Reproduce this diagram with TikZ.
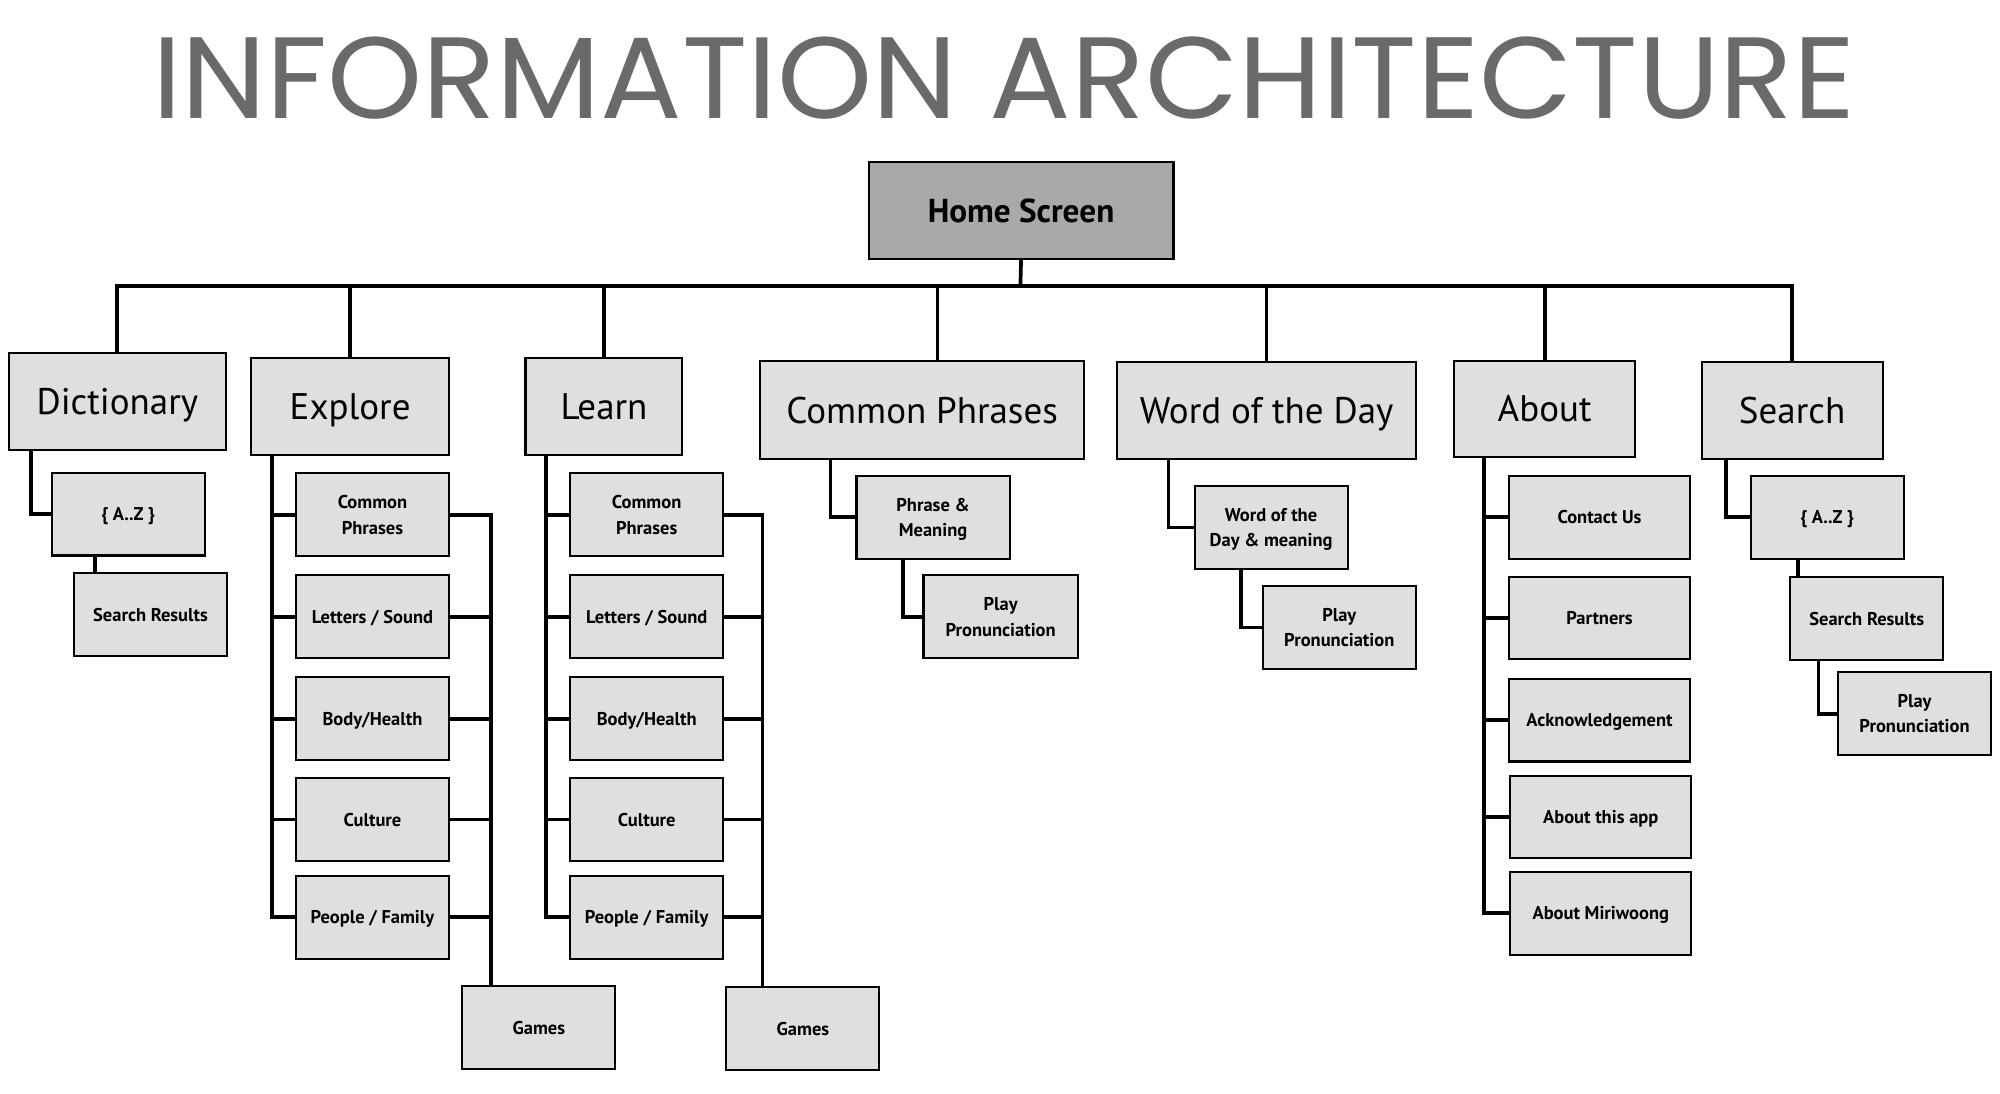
\documentclass[tikz,border=0pt]{standalone}
\usepackage{fontspec}
\setmainfont{PT Sans}
\newfontfamily\titlefont{Poppins}
\usepackage{xcolor}
\definecolor{boxgray}{HTML}{DEDFE1}
\definecolor{homegray}{HTML}{A8A9A9}
\definecolor{titlegray}{HTML}{6A6A6A}
\usetikzlibrary{positioning,calc}

\begin{document}
\begin{tikzpicture}[x=1pt, y=-1pt,
      mainbox/.style={draw, line width=1.6pt, fill=boxgray, inner sep=0pt, text depth=0pt, font=\fontsize{29}{32}\selectfont},
      subbox/.style={draw, line width=1.6pt, fill=boxgray, inner sep=0pt, align=center, text depth=0pt, minimum width=120pt, minimum height=65pt, font=\bfseries\fontsize{14.5}{20}\selectfont},
      homebox/.style={draw, line width=1.6pt, fill=homegray, inner sep=0pt, text depth=0pt, minimum width=239pt, minimum height=76pt, font=\bfseries\fontsize{26}{30}\selectfont},
      conn/.style={line width=2.9pt}
    ]
    \useasboundingbox[fill=white] (0,0) rectangle (1568,857);
    % title
    \node[inner sep=0pt, text=titlegray, font=\titlefont] (title) at (787,61) {\resizebox{1335pt}{64pt}{INFORMATION ARCHITECTURE}};
    % home and top level
    \node[homebox] (home) at (800.5,165) {Home Screen};
    \node[mainbox, minimum width=170pt, minimum height=76pt] (dict) at (92,315) {Dictionary};
    \node[mainbox, minimum width=155pt, minimum height=76pt] (explore) at (274.5,319) {Explore};
    \node[mainbox, minimum width=123pt, minimum height=76pt] (learn) at (473.5,319) {Learn};
    \node[mainbox, minimum width=254pt, minimum height=77pt] (cphr) at (723,321.5) {Common Phrases};
    \node[mainbox, minimum width=234pt, minimum height=76pt] (wotd) at (993,322) {Word of the Day};
    \node[mainbox, minimum width=142pt, minimum height=75pt] (about) at (1211,320.5) {About};
    \node[mainbox, minimum width=142pt, minimum height=76pt] (search) at (1405,322) {Search};
    \coordinate (bus) at (800,224);
    \draw[conn] (dict.north) |- (bus) -| (search.north);
    \draw[conn] (home.south) -- (bus);
    \foreach \n in {explore,learn,wotd,about} { \draw[conn] (\n.north) -- (\n.north |- bus); }
    \draw[conn] ([xshift=12pt]cphr.north) -- ([xshift=12pt]cphr.north |- bus);
    % dictionary
    \node[subbox] (daz) at (100.5,403) {\{ A..Z \}};
    \node[subbox] (dres) at (118,482) {Search Results};
    \draw[conn] ([xshift=18pt]dict.south west) |- (daz.west);
    \draw[conn] ([xshift=35pt]daz.south west) -- ([xshift=35pt]daz.south west |- dres.north);
    % explore
    \node[subbox] (ecp) at (292,403.5) {Common\\Phrases};
    \node[subbox] (els) at (292,483.5) {Letters / Sound};
    \node[subbox] (ebh) at (292,563.5) {Body/Health};
    \node[subbox] (ecu) at (292,642.5) {Culture};
    \node[subbox] (epf) at (292,719) {People / Family};
    \node[subbox] (egm) at (422.5,805.5) {Games};
    \foreach \c in {ecp,els,ebh,ecu,epf} {
      \draw[conn] ([xshift=17pt]explore.south west) |- (\c.west);
      \draw[conn] (\c.east) -| ([xshift=23pt]egm.north west);
    }
    % learn
    \node[subbox] (lcp) at (507,403.5) {Common\\Phrases};
    \node[subbox] (lls) at (507,483.5) {Letters / Sound};
    \node[subbox] (lbh) at (507,563.5) {Body/Health};
    \node[subbox] (lcu) at (507,642.5) {Culture};
    \node[subbox] (lpf) at (507,719) {People / Family};
    \node[subbox] (lgm) at (629.5,806.5) {Games};
    \foreach \c in {lcp,lls,lbh,lcu,lpf} {
      \draw[conn] ([xshift=17pt]learn.south west) |- (\c.west);
      \draw[conn] (\c.east) -| ([xshift=29pt]lgm.north west);
    }
    % common phrases
    \node[subbox] (cpm) at (731.5,405.5) {Phrase \&\\Meaning};
    \node[subbox, minimum width=121pt] (cpp) at (784.5,483.5) {Play\\Pronunciation};
    \draw[conn] ([xshift=56pt]cphr.south west) |- (cpm.west);
    \draw[conn] ([xshift=37pt]cpm.south west) |- (cpp.west);
    % word of the day
    \node[subbox] (wdm) at (996.5,413.5) {Word of the\\Day \& meaning};
    \node[subbox] (wpp) at (1050,492) {Play\\Pronunciation};
    \draw[conn] ([xshift=41pt]wotd.south west) |- (wdm.west);
    \draw[conn] ([xshift=37pt]wdm.south west) |- (wpp.west);
    % about
    \node[subbox, minimum width=142pt] (acu) at (1254,405.5) {Contact Us};
    \node[subbox, minimum width=142pt] (apa) at (1254,484.5) {Partners};
    \node[subbox, minimum width=142pt] (aak) at (1254,564.5) {Acknowledgement};
    \node[subbox, minimum width=142pt] (aap) at (1255,640.5) {About this app};
    \node[subbox, minimum width=142pt] (ami) at (1255,716) {About Miriwoong};
    \foreach \c in {acu,apa,aak,aap,ami} { \draw[conn] ([xshift=24pt]about.south west) |- (\c.west); }
    % search
    \node[subbox] (saz) at (1432.5,405.5) {\{ A..Z \}};
    \node[subbox] (sres) at (1463.5,485) {Search Results};
    \node[subbox] (spp) at (1501,559.5) {Play\\Pronunciation};
    \draw[conn] ([xshift=20pt]search.south west) |- (saz.west);
    \draw[conn] ([xshift=38pt]saz.south west) -- ([xshift=38pt]saz.south west |- sres.north);
    \draw[conn] ([xshift=23pt]sres.south west) |- (spp.west);
  \end{tikzpicture}
\end{document}
